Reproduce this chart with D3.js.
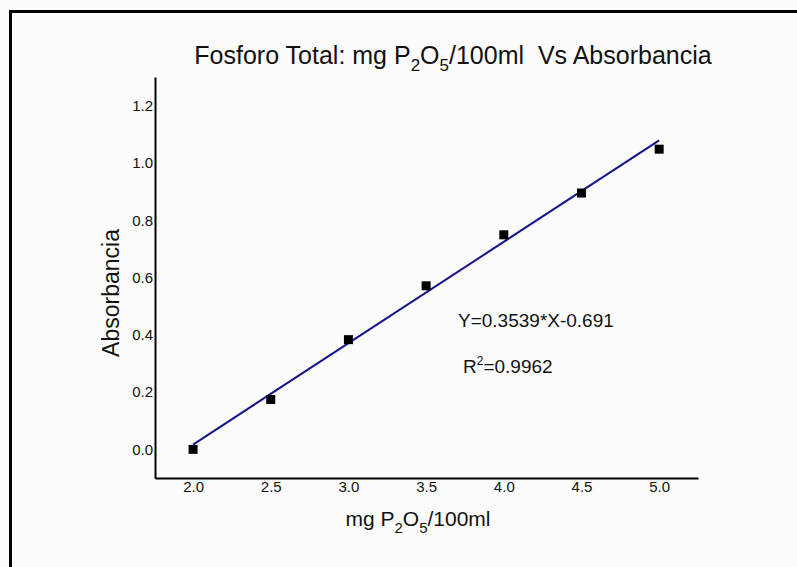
<!DOCTYPE html>
<html lang="es">
<head>
  <meta charset="UTF-8">
  <title>Fosforo Total vs Absorbancia</title>
  <script src="https://d3js.org/d3.v7.min.js"></script>
  <style>
    body { margin: 0; overflow: hidden; background: #fcfcfc; }
    svg { display: block; font-family: "Liberation Sans", Arial, sans-serif; }
    text { white-space: pre; }
    .tick text { font-size: 15px; fill: #111; font-family: "Liberation Sans", Arial, sans-serif; }
  </style>
</head>
<body>
  <svg id="chart"></svg>
  <script>
    // data
    const concentracion = [2.0, 2.5, 3.0, 3.5, 4.0, 4.5, 5.0];
    const absorbancia = [0.0, 0.174, 0.383, 0.571, 0.749, 0.895, 1.048];
    const xTicks = [2.0, 2.5, 3.0, 3.5, 4.0, 4.5, 5.0];
    const yTicks = [0.0, 0.2, 0.4, 0.6, 0.8, 1.0, 1.2];
    const pendiente = 0.3539;
    const intercepto = -0.691;

    const width = 797, height = 567;
    const margin = { top: 77, right: 99, bottom: 89, left: 155 };

    const svg = d3.select("#chart").attr("width", width).attr("height", height);

    svg.append("rect")
      .attr("x", 0).attr("y", 0).attr("width", width).attr("height", height)
      .attr("fill", "#fcfcfc");

    // outer frame (only top and left visible)
    svg.append("rect")
      .attr("x", 10.5).attr("y", 11.5)
      .attr("width", width + 20).attr("height", height + 20)
      .attr("fill", "none").attr("stroke", "#000").attr("stroke-width", 3);

    const x = d3.scaleLinear().domain([1.755, 5.25]).range([margin.left, width - margin.right]);
    const y = d3.scaleLinear().domain([-0.1, 1.3]).range([height - margin.bottom, margin.top]);

    // axes without tick marks
    const xAxis = svg.append("g")
      .attr("transform", `translate(0,${height - margin.bottom})`)
      .call(d3.axisBottom(x).tickValues(xTicks).tickFormat(d3.format(".1f")).tickSize(0).tickPadding(3));
    const yAxis = svg.append("g")
      .attr("transform", `translate(${margin.left},0)`)
      .call(d3.axisLeft(y).tickValues(yTicks).tickFormat(d3.format(".1f")).tickSize(0).tickPadding(2));

    [xAxis, yAxis].forEach(a => {
      a.select(".domain").attr("stroke", "#000").attr("stroke-width", 2);
    });

    // regression line
    const lx = d3.extent(concentracion);
    svg.append("line")
      .attr("x1", x(lx[0])).attr("y1", y(pendiente * lx[0] + intercepto))
      .attr("x2", x(lx[1])).attr("y2", y(pendiente * lx[1] + intercepto))
      .attr("stroke", "#14148c").attr("stroke-width", 2);

    // markers
    const s = 9;
    svg.selectAll("rect.pt")
      .data(concentracion)
      .enter()
      .append("rect")
      .attr("class", "pt")
      .attr("x", (d, i) => x(d) - s / 2)
      .attr("y", (d, i) => y(absorbancia[i]) - s / 2)
      .attr("width", s).attr("height", s)
      .attr("fill", "#000");

    // title
    const title = svg.append("text")
      .attr("x", 453).attr("y", 64)
      .attr("text-anchor", "middle").attr("font-size", 25).attr("fill", "#111");
    title.append("tspan").text("Fosforo Total: mg P");
    title.append("tspan").attr("dy", 7).attr("font-size", 17).text("2");
    title.append("tspan").attr("dy", -7).text("O");
    title.append("tspan").attr("dy", 7).attr("font-size", 17).text("5");
    title.append("tspan").attr("dy", -7).text("/100ml  Vs Absorbancia");

    // x label
    const xl = svg.append("text")
      .attr("x", 418).attr("y", 526)
      .attr("text-anchor", "middle").attr("font-size", 21).attr("fill", "#111");
    xl.append("tspan").text("mg P");
    xl.append("tspan").attr("dy", 7).attr("font-size", 15).text("2");
    xl.append("tspan").attr("dy", -7).text("O");
    xl.append("tspan").attr("dy", 7).attr("font-size", 15).text("5");
    xl.append("tspan").attr("dy", -7).text("/100ml");

    // y label
    svg.append("text")
      .attr("transform", "translate(119,293) rotate(-90)")
      .attr("text-anchor", "middle").attr("font-size", 23).attr("fill", "#111")
      .text("Absorbancia");

    // annotations
    svg.append("text")
      .attr("x", 458).attr("y", 327)
      .attr("font-size", 19).attr("fill", "#111")
      .text(`Y=${pendiente}*X${intercepto}`);
    const r2 = svg.append("text")
      .attr("x", 463).attr("y", 373)
      .attr("font-size", 19).attr("fill", "#111");
    r2.append("tspan").text("R");
    r2.append("tspan").attr("dy", -8).attr("font-size", 12).text("2");
    r2.append("tspan").attr("dy", 8).text("=0.9962");
  </script>
</body>
</html>
